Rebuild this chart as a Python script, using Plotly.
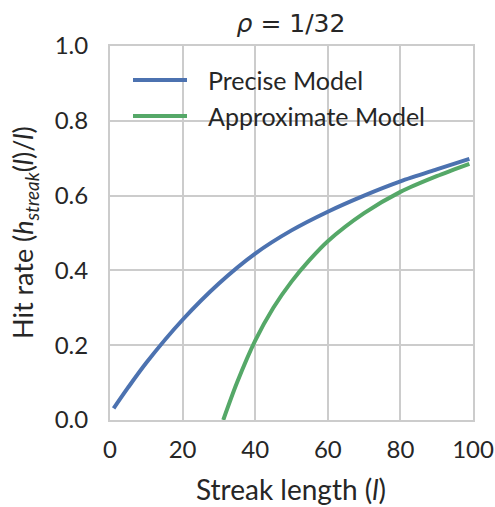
import plotly.graph_objects as go

# Precise model
precise_l = [1, 5, 10, 20, 30, 40, 50, 60, 70, 80, 90, 99]
precise_hit = [0.031, 0.087, 0.153, 0.268, 0.365, 0.445, 0.507, 0.557, 0.600, 0.638, 0.670, 0.698]

# Approximate model
approx_l = [31.2, 35, 40, 45, 50, 55, 60, 70, 80, 90, 99]
approx_hit = [0.0, 0.100, 0.212, 0.300, 0.370, 0.428, 0.478, 0.553, 0.610, 0.652, 0.685]

series_names = ["Precise Model", "Approximate Model"]
x_ticks = [0, 20, 40, 60, 80, 100]
y_ticks = [0.0, 0.2, 0.4, 0.6, 0.8, 1.0]

FONT = "Lato"
GRID = "#cccccc"
TEXT = "#262626"
BLUE = "#4C72B0"
GREEN = "#55A868"
colors = [BLUE, GREEN]

W, H = 495, 507
PL, PT, PW, PH = 110, 46, 363, 374


def px_x(px):
    return (px - PL) / PW


def px_y(py):
    return (PT + PH - py) / PH


fig = go.Figure()
fig.add_trace(go.Scatter(x=precise_l, y=precise_hit, mode="lines", name=series_names[0],
                         line=dict(color=BLUE, width=4, shape="spline", smoothing=0.8)))
fig.add_trace(go.Scatter(x=approx_l, y=approx_hit, mode="lines", name=series_names[1],
                         line=dict(color=GREEN, width=4, shape="spline", smoothing=0.8)))

# manual legend (paper coordinates), no frame like seaborn whitegrid
legend_y = [px_y(80), px_y(116)]
for name, col, ly in zip(series_names, colors, legend_y):
    fig.add_shape(type="line", xref="paper", yref="paper", x0=px_x(133), x1=px_x(187), y0=ly, y1=ly,
                  line=dict(color=col, width=4))
    fig.add_annotation(xref="paper", yref="paper", x=px_x(206), y=ly, text=name, showarrow=False,
                       xanchor="left", yanchor="middle",
                       font=dict(family=FONT, size=25, color=TEXT))

# axis titles as annotations
fig.add_annotation(xref="paper", yref="paper", x=px_x(291), y=px_y(489), text="Streak length (<i>l</i>)",
                   showarrow=False, xanchor="center", yanchor="middle",
                   font=dict(family=FONT, size=28, color=TEXT))
fig.add_annotation(xref="paper", yref="paper", x=px_x(24), y=px_y(233),
                   text="Hit rate (<i>h<sub>streak</sub></i>(<i>l</i>)/<i>l</i>)", textangle=-90,
                   showarrow=False, xanchor="center", yanchor="middle",
                   font=dict(family=FONT, size=27, color=TEXT))

fig.update_layout(
    width=W, height=H,
    margin=dict(l=PL, r=W - PL - PW, t=PT, b=H - PT - PH, autoexpand=False),
    paper_bgcolor="white", plot_bgcolor="white",
    font=dict(family=FONT, size=24, color=TEXT),
    title=dict(text="<i>ρ</i> = 1/32", x=291 / W, xanchor="center", y=1 - 23 / H,
               yanchor="middle",
               font=dict(family="DejaVu Sans", size=25, color=TEXT)),
    showlegend=False,
)
fig.update_xaxes(range=[0, 100], tickvals=x_ticks, ticktext=[str(v) for v in x_ticks],
                 showgrid=True, gridcolor=GRID, gridwidth=2, zeroline=False, automargin=False,
                 showline=True, linecolor=GRID, linewidth=2, mirror=True,
                 ticks="outside", ticklen=7, tickcolor="rgba(0,0,0,0)",
                 tickfont=dict(family=FONT, size=24, color=TEXT))
fig.update_yaxes(range=[0, 1.0], tickvals=y_ticks, ticktext=[f"{v:.1f}" for v in y_ticks],
                 showgrid=True, gridcolor=GRID, gridwidth=2, zeroline=False, automargin=False,
                 showline=True, linecolor=GRID, linewidth=2, mirror=True,
                 ticks="outside", ticklen=15, tickcolor="rgba(0,0,0,0)",
                 tickfont=dict(family=FONT, size=24, color=TEXT))

fig.write_html(
    "out.html",
    config={"displayModeBar": False, "responsive": False},
    post_script="document.documentElement.style.overflow='hidden';"
                "document.body.style.margin='0';document.body.style.overflow='hidden';",
)
